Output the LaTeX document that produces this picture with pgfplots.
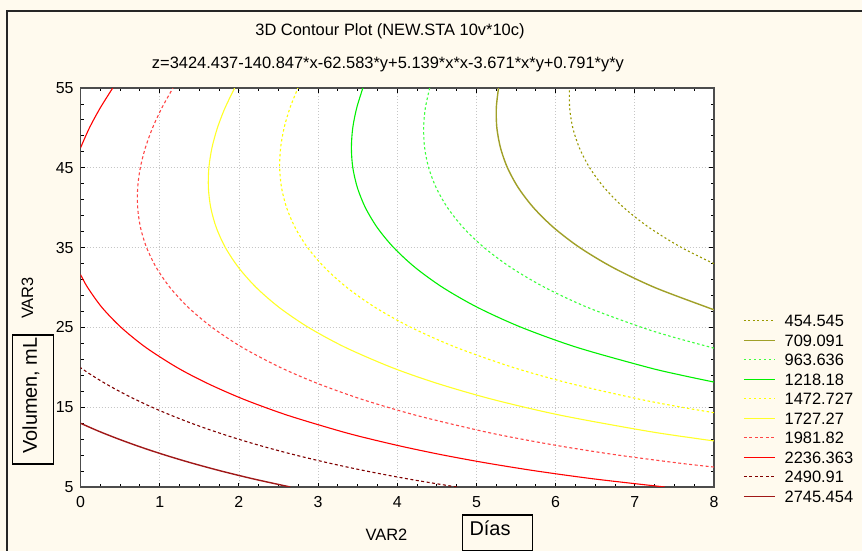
\documentclass[border=0pt]{standalone}
\usepackage{pgfplots}
\pgfplotsset{compat=1.18}
\usepackage{fontspec}
\setmainfont{Liberation Sans}
\definecolor{cream}{RGB}{255,250,238}
\definecolor{cA}{RGB}{153,153,0}
\definecolor{cB}{RGB}{160,160,40}
\definecolor{cC}{RGB}{60,255,60}
\definecolor{cD}{RGB}{0,240,0}
\definecolor{cE}{RGB}{255,255,0}
\definecolor{cF}{RGB}{255,255,40}
\definecolor{cG}{RGB}{255,70,70}
\definecolor{cH}{RGB}{255,0,0}
\definecolor{cI}{RGB}{128,0,0}
\definecolor{cJ}{RGB}{160,24,24}
\begin{document}
\begin{tikzpicture}
\useasboundingbox (0,0) rectangle (862bp,551bp);
\fill[cream] (0,0) rectangle (862bp,551bp);
\draw[line width=1.5bp, black!85] (7bp,-5bp) -- (7bp,540bp) -- (870bp,540bp);
\node[font=\fontsize{16.5}{19}\selectfont] at (390bp,520bp) {3D Contour Plot (NEW.STA 10v*10c)};
\node[font=\fontsize{16.5}{19}\selectfont] at (388bp,487bp) {z=3424.437-140.847*x-62.583*y+5.139*x*x-3.671*x*y+0.791*y*y};
\begin{axis}[
  at={(80.5bp,64bp)}, anchor=south west,
  scale only axis, width=633.5bp, height=399bp,
  xmin=0, xmax=8, ymin=5, ymax=55,
  xtick={0,1,...,8}, ytick={5,15,...,55},
  minor x tick num=3, minor y tick num=4,
  axis background/.style={fill=white},
  grid=major,
  major grid style={gray!45, line width=0.7bp, dash pattern=on 1.2bp off 1.8bp},
  axis line style={line width=1.4bp, black!70},
  tick style={black, line width=0.9bp},
  major tick length=4.5bp, minor tick length=3bp,
  tick label style={font=\fontsize{16}{19}\selectfont},
  /pgf/number format/assume math mode=true,
  xticklabel style={yshift=-6bp},
  yticklabel style={xshift=-3.5bp},
  legend cell align=left,
  legend image code/.code={\draw[#1] (0bp,0bp) -- (31bp,0bp);},
  legend style={at={(1.0458,0.4318)}, anchor=north west, draw=none, fill=none,
    inner sep=0pt, font=\fontsize{16.5}{19}\selectfont,
    row sep=7.5bp, nodes={inner sep=0pt, text height=12bp, text depth=0bp},
    /tikz/every odd column/.append style={column sep=9bp}},
]
% 454.545
\addplot[cA, line width=1.1bp, dash pattern=on 2bp off 2.5bp, smooth] coordinates {
(8,32.98) (7.591,35) (7.183,37.5) (6.862,40) (6.615,42.5) (6.430,45) (6.300,47.5) (6.217,50) (6.177,52.5) (6.175,55)};
\addlegendentry{454.545}
% 709.091
\addplot[cB, line width=1.4bp, smooth] coordinates {
(8,27.23) (7.919,27.5) (7.252,30) (6.724,32.5) (6.305,35) (5.976,37.5) (5.721,40) (5.529,42.5) (5.392,45) (5.304,47.5) (5.258,50) (5.251,52.5) (5.279,55)};
\addlegendentry{709.091}
% 963.636
\addplot[cC, line width=1.1bp, dash pattern=on 2.5bp off 2.5bp, smooth] coordinates {
(8,22.40) (7.496,23.75) (7.088,25) (6.405,27.5) (5.865,30) (5.436,32.5) (5.097,35) (4.834,37.5) (4.635,40) (4.492,42.5) (4.397,45) (4.346,47.5) (4.333,50) (4.355,52.5) (4.410,55)};
\addlegendentry{963.636}
% 1218.18
\addplot[cD, line width=1.1bp, smooth] coordinates {
(8,18.15) (7.593,19) (7.162,20) (6.268,22.5) (5.569,25) (5.015,27.5) (4.575,30) (4.227,32.5) (3.955,35) (3.748,37.5) (3.598,40) (3.497,42.5) (3.439,45) (3.421,47.5) (3.438,50) (3.488,52.5) (3.566,55)};
\addlegendentry{1218.18}
% 1472.727
\addplot[cE, line width=1.1bp, dash pattern=on 2.5bp off 2.5bp, smooth] coordinates {
(8,14.31) (7.590,15) (7.060,16) (6.173,18) (5.459,20) (4.742,22.5) (4.174,25) (3.722,27.5) (3.364,30) (3.083,32.5) (2.868,35) (2.711,37.5) (2.603,40) (2.539,42.5) (2.515,45) (2.527,47.5) (2.571,50) (2.645,52.5) (2.746,55)};
\addlegendentry{1472.727}
% 1727.27
\addplot[cF, line width=1.1bp, smooth] coordinates {
(8,10.78) (7.835,11) (7.157,12) (6.058,14) (5.196,16) (4.499,18) (3.925,20) (3.343,22.5) (2.878,25) (2.509,27.5) (2.219,30) (1.996,32.5) (1.830,35) (1.715,37.5) (1.645,40) (1.615,42.5) (1.621,45) (1.660,47.5) (1.729,50) (1.825,52.5) (1.947,55)};
\addlegendentry{1727.27}
% 1981.82
\addplot[cG, line width=1.1bp, dash pattern=on 3bp off 2.5bp, smooth] coordinates {
(8,7.50) (7.554,8) (6.787,9) (6.135,10) (5.569,11) (5.071,12) (4.232,14) (3.550,16) (2.988,18) (2.520,20) (2.042,22.5) (1.662,25) (1.362,27.5) (1.130,30) (0.957,32.5) (0.835,35) (0.758,37.5) (0.722,40) (0.722,42.5) (0.755,45) (0.819,47.5) (0.910,50) (1.027,52.5) (1.168,55)};
\addlegendentry{1981.82}
% 2236.363
\addplot[cH, line width=1.1bp, smooth] coordinates {
(7.379,5) (6.495,6) (5.760,7) (5.131,8) (4.582,9) (4.098,10) (3.666,11) (3.279,12) (2.611,14) (2.059,16) (1.600,18) (1.215,20) (0.823,22.5) (0.513,25) (0.271,27.5) (0.090,30) (0,31.63)};
\addlegendentry{2236.363}
% 2490.91
\addplot[cI, line width=1.1bp, dash pattern=on 3bp off 2.5bp, smooth] coordinates {
(4.751,5) (4.142,6) (3.610,7) (3.138,8) (2.716,9) (2.336,10) (1.993,11) (1.682,12) (1.398,13) (1.140,14) (0.903,15) (0.687,16) (0.489,17) (0.308,18) (0.143,19) (0,19.95)};
\addlegendentry{2490.91}
% 2745.454
\addplot[cJ, line width=1.4bp, smooth] coordinates {
(2.650,5) (2.189,6) (1.777,7) (1.405,8) (1.068,9) (0.762,10) (0.483,11) (0.228,12) (0,12.99)};
\addlegendentry{2745.454}
% 2236.363 upper branch
\addplot[cH, line width=1.1bp, smooth, forget plot] coordinates {
(0,47.49) (0.1125,50) (0.249,52.5) (0.407,55)};
\end{axis}
\node[font=\fontsize{16.5}{19}\selectfont, rotate=90] at (27.5bp,253bp) {VAR3};
\node[font=\fontsize{16.5}{19}\selectfont] at (386.5bp,16bp) {VAR2};
\draw[line width=1.3bp, black] (12.3bp,87bp) rectangle (53.3bp,216bp);
\node[font=\fontsize{20}{24}\selectfont, rotate=90] at (31bp,155.5bp) {Volumen, mL};
\draw[line width=1.3bp, black] (462.7bp,36bp) rectangle (532.7bp,0.7bp);
\node[font=\fontsize{20}{24}\selectfont, anchor=base west] at (466bp,16bp) {Días};
\end{tikzpicture}
\end{document}
